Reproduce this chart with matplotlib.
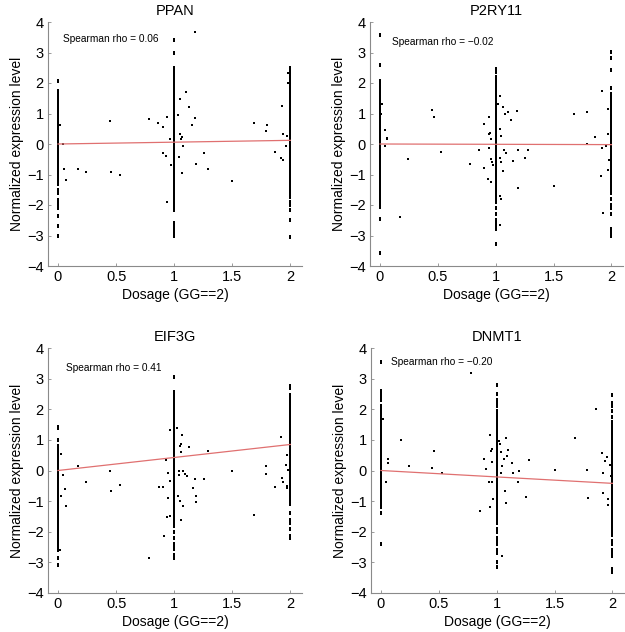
import matplotlib
matplotlib.use("Agg")
import matplotlib.pyplot as plt

plt.rcParams['font.family'] = ['Liberation Sans', 'DejaVu Sans']

# ---- PPAN ----
ppan_x0 = [2.07, 1.75, 1.68, 1.6, 1.5, 1.42, 1.3, 1.2, 1.15, 1.1, 1.05, 1.0, 0.95, 0.9, 0.85, 0.8, 0.75,
           0.7, 0.6, 0.55, 0.5, 0.4, 0.35, 0.3, 0.2, 0.15, 0.1, 0.05, 0.0, -0.05, -0.1, -0.2, -0.3, -0.35,
           -0.4, -0.5, -0.6, -0.7, -0.8, -0.85, -0.9, -0.95, -1.0, -1.05, -1.1, -1.15, -1.2, -1.25, -1.3,
           -1.5, -1.6, -1.85, -1.9, -2.0, -2.1, -2.35, -2.7, -3.0]
ppan_x1 = [3.42, 3.0, 2.5, 2.45, 2.4, 2.3, 2.2, 2.1, 2.05, 2.0, 1.9, 1.8, 1.7, 1.6, 1.55, 1.5, 1.4, 1.3,
           1.2, 1.1, 1.0, 0.9, 0.8, 0.7, 0.6, 0.5, 0.4, 0.3, 0.2, 0.1, 0.0, -0.1, -0.2, -0.3, -0.4, -0.5,
           -0.6, -0.7, -0.8, -0.9, -1.0, -1.1, -1.2, -1.3, -1.4, -1.5, -1.6, -1.7, -1.8, -1.9, -2.0, -2.1,
           -2.15, -2.6, -2.7, -2.8, -2.9, -2.95, -3.0]
ppan_x2 = [2.5, 2.45, 2.35, 2.25, 2.15, 2.1, 2.0, 1.9, 1.8, 1.7, 1.6, 1.5, 1.4, 1.3, 1.2, 1.1, 1.0, 0.9,
           0.8, 0.7, 0.6, 0.5, 0.4, 0.3, 0.2, 0.1, 0.0, -0.1, -0.2, -0.3, -0.4, -0.5, -0.6, -0.7, -0.8,
           -0.9, -1.0, -1.1, -1.2, -1.3, -1.4, -1.5, -1.55, -1.6, -1.75, -1.9, -2.0, -2.15, -2.5, -3.05]
ppan_mid = [(0.02, 0.63), (0.04, 0.0), (0.05, -0.83), (0.07, -1.17), (0.17, -0.83), (0.24, -0.92),
            (0.45, 0.74), (0.46, -0.92), (0.53, -1.03), (0.78, 0.82), (0.86, 0.68), (0.90, 0.57),
            (0.94, 0.88), (0.90, -0.28), (0.93, -0.39), (0.94, -1.91), (0.97, -0.70), (0.96, 0.15),
            (1.05, 1.48), (1.10, 1.72), (1.13, 1.20), (1.15, 0.61), (1.18, 0.85), (1.18, 3.67),
            (1.19, -0.65), (1.26, -0.31), (1.29, -0.83), (1.07, -0.96), (1.08, -0.08), (1.07, 0.22),
            (1.05, 0.33), (1.06, 0.16), (1.04, -0.41), (1.03, 0.95), (1.50, -1.22), (1.69, 0.68),
            (1.80, 0.63), (1.79, 0.41), (1.87, -0.27), (1.92, -0.47), (1.94, -0.52), (1.93, 1.25),
            (1.94, 0.33), (1.97, 0.27), (1.96, -0.05), (1.98, 2.34), (1.98, 1.99)]
ppan_fit = [0.0, 0.12]

# ---- P2RY11 ----
p2_x0 = [3.57, 2.6, 2.05, 2.0, 1.9, 1.85, 1.8, 1.7, 1.6, 1.5, 1.4, 1.3, 1.2, 1.1, 1.0, 0.9, 0.8, 0.7,
         0.6, 0.5, 0.4, 0.3, 0.2, 0.1, 0.0, -0.1, -0.2, -0.3, -0.4, -0.5, -0.6, -0.7, -0.8, -0.9, -1.0,
         -1.1, -1.2, -1.3, -1.4, -1.5, -1.6, -1.7, -1.8, -1.9, -2.0, -2.05, -2.45, -3.57]
p2_x1 = [2.45, 2.35, 2.2, 2.05, 2.0, 1.9, 1.8, 1.7, 1.6, 1.5, 1.4, 1.3, 1.2, 1.1, 1.0, 0.9, 0.8, 0.7,
         0.6, 0.5, 0.4, 0.3, 0.2, 0.1, 0.0, -0.1, -0.2, -0.3, -0.4, -0.5, -0.6, -0.7, -0.8, -0.9, -1.0,
         -1.1, -1.2, -1.3, -1.4, -1.5, -1.6, -1.7, -1.8, -1.9, -2.1, -2.3, -2.5, -2.6, -2.7, -2.78, -3.27]
p2_x2 = [3.03, 2.83, 2.43, 1.82, 1.65, 1.6, 1.5, 1.4, 1.3, 1.2, 1.1, 1.0, 0.9, 0.8, 0.7, 0.6, 0.5, 0.4,
         0.3, 0.2, 0.1, 0.0, -0.1, -0.2, -0.3, -0.4, -0.5, -0.6, -0.7, -0.8, -0.9, -1.0, -1.1, -1.2,
         -1.3, -1.4, -1.5, -1.6, -1.8, -2.0, -2.1, -2.3, -2.8, -2.9, -3.0]
p2_mid = [(0.02, 1.31), (0.01, 0.98), (0.04, 0.47), (0.06, 0.21), (0.06, 0.16), (0.04, -0.06),
          (0.45, 1.10), (0.47, 0.90), (0.53, -0.26), (0.24, -0.50), (0.17, -2.40), (0.78, -0.67),
          (0.90, 0.67), (0.90, -0.78), (0.86, -0.19), (0.94, 0.87), (0.94, 0.32), (0.95, 0.36),
          (0.96, 0.16), (0.93, -1.16), (0.96, -1.25), (0.94, -0.14), (0.96, -0.50), (0.97, -0.58),
          (0.98, -0.68), (1.02, 1.31), (1.04, 1.59), (1.06, 1.22), (1.08, 0.98), (1.11, 1.04),
          (1.13, 0.78), (1.18, 1.09), (1.05, 0.27), (1.04, -0.45), (1.05, -0.58), (1.06, -0.88),
          (1.07, -0.20), (1.09, -0.28), (1.04, -1.71), (1.05, -1.80), (1.04, -2.64), (1.04, 0.49),
          (1.15, -0.56), (1.19, -0.19), (1.19, -1.43), (1.25, -0.45), (1.28, -0.19), (1.50, -1.38),
          (1.68, 0.98), (1.79, 1.04), (1.79, -0.01), (1.86, 0.23), (1.91, -1.05), (1.92, 1.75),
          (1.92, -0.12), (1.93, -2.25), (1.95, -0.06), (1.97, 0.33), (1.97, 1.15), (1.97, -0.85),
          (1.98, -0.53)]
p2_fit = [0.0, -0.02]

# ---- EIF3G ----
e_x0 = [1.42, 1.4, 1.0, 0.8, 0.78, 0.65, 0.6, 0.5, 0.45, 0.4, 0.3, 0.2, 0.1, 0.0, -0.1, -0.2, -0.3,
        -0.4, -0.5, -0.6, -0.7, -0.8, -0.9, -1.0, -1.1, -1.2, -1.3, -1.4, -1.5, -1.6, -1.7, -1.8, -1.9,
        -2.0, -2.1, -2.2, -2.3, -2.4, -2.5, -2.6, -2.85, -3.1]
e_x1 = [3.05, 2.55, 2.5, 2.4, 2.3, 2.2, 2.1, 2.0, 1.9, 1.8, 1.7, 1.6, 1.5, 1.4, 1.3, 1.2, 1.1, 1.0, 0.9,
        0.8, 0.7, 0.6, 0.5, 0.4, 0.3, 0.2, 0.1, 0.0, -0.1, -0.2, -0.3, -0.4, -0.5, -0.6, -0.7, -0.8,
        -0.9, -1.0, -1.1, -1.2, -1.3, -1.4, -1.5, -1.6, -1.7, -1.8, -2.0, -2.2, -2.4, -2.5, -2.55,
        -2.75, -2.85]
e_x2 = [2.75, 2.7, 2.45, 2.4, 2.3, 2.2, 2.1, 2.0, 1.9, 1.8, 1.7, 1.6, 1.5, 1.4, 1.3, 1.2, 1.1, 1.0, 0.9,
        0.8, 0.7, 0.6, 0.5, 0.4, 0.3, 0.2, 0.1, 0.0, -0.1, -0.2, -0.3, -0.4, -0.5, -0.6, -0.7, -0.8,
        -0.9, -1.0, -1.1, -1.4, -1.6, -1.7, -1.9, -2.15, -2.2]
e_mid = [(0.03, 0.54), (0.04, -0.16), (0.06, -0.60), (0.07, -1.15), (0.02, -2.58), (0.03, -0.84),
         (0.17, 0.14), (0.24, -0.39), (0.45, 0.0), (0.46, -0.66), (0.53, -0.48), (0.78, -2.86),
         (0.87, -0.54), (0.90, -0.54), (0.93, 0.33), (0.95, -0.08), (0.95, -0.90), (0.96, 1.33),
         (0.94, -1.52), (0.96, -1.50), (0.91, -2.15), (0.96, -0.35), (1.02, 1.39), (1.04, -0.03),
         (1.05, 0.79), (1.06, 0.86), (1.06, 0.61), (1.07, 1.17), (1.04, -0.14), (1.05, -1.0),
         (1.06, -1.60), (1.03, -0.84), (1.08, -0.03), (1.09, -0.10), (1.08, -1.17), (1.11, -0.19),
         (1.13, 0.76), (1.18, -0.28), (1.19, -0.82), (1.19, -1.04), (1.16, -0.57), (1.26, -0.28),
         (1.29, 0.63), (1.50, -0.02), (1.69, -1.44), (1.79, 0.14), (1.79, -0.10), (1.87, -0.55),
         (1.92, 1.08), (1.93, -0.24), (1.94, -0.39), (1.96, 0.19), (1.97, 0.50), (1.97, -0.52),
         (1.98, 0.02), (1.97, -0.57)]
e_fit = [0.0, 0.85]

# ---- DNMT1 ----
d_x0 = [3.54, 2.6, 2.5, 2.4, 2.3, 2.1, 2.0, 1.9, 1.8, 1.7, 1.6, 1.5, 1.4, 1.3, 1.2, 1.1, 1.0, 0.9, 0.8,
        0.7, 0.6, 0.5, 0.4, 0.3, 0.2, 0.1, 0.0, -0.1, -0.2, -0.3, -0.4, -0.5, -0.6, -0.7, -0.8, -0.9,
        -1.0, -1.1, -1.2, -1.4, -2.4]
d_x1 = [2.78, 2.5, 2.3, 2.2, 2.1, 1.95, 1.85, 1.75, 1.7, 1.6, 1.55, 1.5, 1.4, 1.3, 1.2, 1.1, 1.0, 0.9,
        0.8, 0.7, 0.6, 0.5, 0.4, 0.3, 0.2, 0.1, 0.0, -0.1, -0.2, -0.3, -0.4, -0.5, -0.6, -0.7, -0.8,
        -0.9, -1.0, -1.1, -1.2, -1.3, -1.4, -1.5, -1.6, -1.7, -1.9, -2.0, -2.2, -2.3, -2.4, -2.6, -2.7,
        -3.0, -3.15]
d_x2 = [2.45, 2.2, 2.1, 1.95, 1.75, 1.6, 1.5, 1.4, 1.3, 1.2, 1.1, 1.0, 0.9, 0.8, 0.7, 0.6, 0.5, 0.4,
        0.3, 0.2, 0.1, 0.0, -0.1, -0.2, -0.3, -0.4, -0.5, -0.6, -0.7, -0.8, -0.9, -1.0, -1.1, -1.2,
        -1.3, -1.4, -1.5, -1.6, -1.7, -1.8, -1.9, -2.0, -2.1, -2.3, -2.4, -2.6, -2.65, -2.8, -3.2, -3.3]
d_mid = [(0.02, 1.68), (0.06, 0.39), (0.06, 0.24), (0.04, -0.39), (0.17, 0.99), (0.24, 0.15),
         (0.44, 0.07), (0.46, 0.64), (0.53, -0.07), (0.78, 3.19), (0.86, -1.32), (0.89, 0.37),
         (0.91, 0.04), (0.94, 1.16), (0.93, -0.39), (0.94, -1.18), (0.95, 0.64), (0.96, 0.70),
         (0.96, 0.28), (0.97, -0.92), (0.96, -0.39), (1.02, 0.97), (1.03, 0.86), (1.04, 0.59),
         (1.04, -0.07), (1.05, 0.15), (1.06, 0.37), (1.07, -0.67), (1.08, 1.05), (1.09, 0.48),
         (1.08, -1.05), (1.10, 0.68), (1.05, -2.78), (1.13, 0.24), (1.14, -0.09), (1.19, -0.01),
         (1.18, -0.39), (1.25, -0.86), (1.28, 0.35), (1.50, 0.01), (1.68, 1.06), (1.78, 0.01),
         (1.79, -0.89), (1.86, 2.01), (1.91, 0.57), (1.92, -0.07), (1.92, -0.75), (1.94, 0.32),
         (1.95, 0.45), (1.96, -1.14), (1.96, -0.92), (1.98, 0.18), (1.99, -0.17)]
d_fit = [0.0, -0.42]

panels = [
    ("PPAN", ppan_x0, ppan_x1, ppan_x2, ppan_mid, ppan_fit, "Spearman rho = 0.06", (0.04, 3.43)),
    ("P2RY11", p2_x0, p2_x1, p2_x2, p2_mid, p2_fit, "Spearman rho = \u22120.02", (0.10, 3.34)),
    ("EIF3G", e_x0, e_x1, e_x2, e_mid, e_fit, "Spearman rho = 0.41", (0.07, 3.35)),
    ("DNMT1", d_x0, d_x1, d_x2, d_mid, d_fit, "Spearman rho = \u22120.20", (0.09, 3.54)),
]

# axes boxes in figure fractions (left, bottom, width, height)
boxes = [
    (48 / 625, 1 - 266 / 632, 254 / 625, 244 / 632),
    (370 / 625, 1 - 266 / 632, 253 / 625, 244 / 632),
    (48 / 625, 1 - 593 / 632, 254 / 625, 245 / 632),
    (371 / 625, 1 - 593 / 632, 253 / 625, 245 / 632),
]

# slightly tall dot so the stacked genotype columns read as solid stripes
tall_dot = [(-0.6, -1), (0.6, -1), (0.6, 1), (-0.6, 1), (-0.6, -1)]

fig = plt.figure(figsize=(6.25, 6.32), dpi=100)
spine_col = "#8a8a8a"

for (name, s0, s1, s2, mid, fit, label, tpos), box in zip(panels, boxes):
    ax = fig.add_axes(box)
    dot = dict(ls="none", marker="s", ms=1.7, mew=0, color="black")
    stripe = dict(dot, marker=tall_dot, ms=2.4)
    ax.plot([0] * len(s0), s0, **stripe)
    ax.plot([1] * len(s1), s1, **stripe)
    ax.plot([2] * len(s2), s2, **stripe)
    ax.plot([p[0] for p in mid], [p[1] for p in mid], **dot)
    ax.plot([0, 2], fit, color="#e07070", lw=0.9)

    ax.text(tpos[0], tpos[1], label, fontsize=7.3, va="center", ha="left")
    ax.set_title(name, fontsize=10.5, pad=5)
    ax.set_xlim(-0.086, 2.1)
    ax.set_ylim(-4, 4)
    ax.set_xticks([0, 0.5, 1, 1.5, 2])
    ax.set_xticklabels(["0", "0.5", "1", "1.5", "2"])
    ax.set_yticks(range(-4, 5))
    ax.set_xlabel("Dosage (GG==2)", fontsize=10, labelpad=3)
    ax.set_ylabel("Normalized expression level", fontsize=10, labelpad=2)
    ax.tick_params(direction="in", length=2.5, width=0.6, color=spine_col,
                   labelsize=10.5, pad=3)
    ax.spines["top"].set_visible(False)
    ax.spines["right"].set_visible(False)
    for side in ("left", "bottom"):
        ax.spines[side].set_color(spine_col)
        ax.spines[side].set_linewidth(0.8)

fig.savefig("out.png", dpi=100)
